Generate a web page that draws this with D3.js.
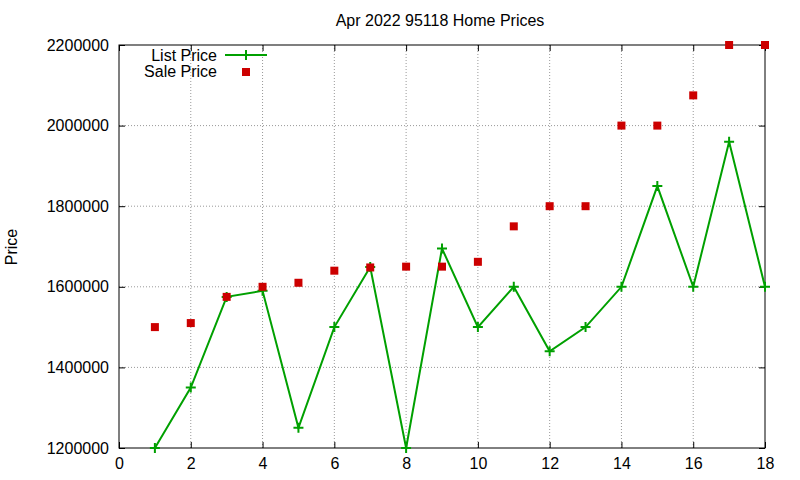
<!DOCTYPE html>
<html><head><meta charset="utf-8">
<script src="https://cdn.jsdelivr.net/npm/d3@7"></script>
<style>body{margin:0;background:#fff}text{font-family:"Liberation Sans",Arial,sans-serif;font-size:16px}</style>
</head><body>
<svg id="c" width="800" height="480"></svg>
<script>
const months = d3.range(1, 19);
const listPrice = [1200000,1350000,1575000,1590000,1250000,1500000,1649000,1200000,1695000,1500000,1600000,1440000,1500000,1600000,1850000,1600000,1960000,1600000];
const salePrice = [1500000,1510000,1575000,1600000,1610000,1640000,1648000,1650000,1650000,1662000,1750000,1800000,1800000,2000000,2000000,2075000,2200000,2200000];
const xTicks = d3.range(0, 19, 2);
const yTicks = d3.range(1200000, 2200001, 200000);

const svg = d3.select("#c");
const L = 119, R = 765, T = 45, B = 448;
const x = d3.scaleLinear().domain([0, 18]).range([L, R]);
const y = d3.scaleLinear().domain([1200000, 2200000]).range([B, T]);
const green = "#00a000", red = "#cc0000";

// grid
svg.append("g").selectAll("line").data(xTicks.slice(1, -1)).join("line")
  .attr("x1", d => x(d)).attr("x2", d => x(d)).attr("y1", T).attr("y2", B)
  .attr("stroke", "#999").attr("stroke-dasharray", "1,2");
svg.append("g").selectAll("line").data(yTicks.slice(1, -1)).join("line")
  .attr("y1", d => y(d)).attr("y2", d => y(d)).attr("x1", L).attr("x2", R)
  .attr("stroke", "#999").attr("stroke-dasharray", "1,2");

// axes with inward ticks, mirrored
svg.append("g").attr("transform", `translate(0,${B})`)
  .call(d3.axisBottom(x).tickValues(xTicks).tickSize(-6).tickPadding(10));
svg.append("g").attr("transform", `translate(0,${T})`)
  .call(d3.axisTop(x).tickValues(xTicks).tickSize(-6).tickFormat(""));
svg.append("g").attr("transform", `translate(${L},0)`)
  .call(d3.axisLeft(y).tickValues(yTicks).tickSize(-6).tickPadding(10).tickFormat(d3.format("d")));
svg.append("g").attr("transform", `translate(${R},0)`)
  .call(d3.axisRight(y).tickValues(yTicks).tickSize(-6).tickFormat(""));
svg.selectAll(".domain").remove();
svg.selectAll(".tick text").attr("font-size", 16).attr("fill", "#000")
  .style("font-family", '"Liberation Sans",Arial,sans-serif');
svg.append("rect").attr("x", L).attr("y", T).attr("width", R - L).attr("height", B - T)
  .attr("fill", "none").attr("stroke", "#000");

// list price line + '+' markers
svg.append("path").datum(months)
  .attr("d", d3.line().x(d => x(d)).y((d, i) => y(listPrice[i])))
  .attr("fill", "none").attr("stroke", green).attr("stroke-width", 2);
svg.append("g").selectAll("path").data(months).join("path")
  .attr("d", (d, i) => `M${x(d)-5},${y(listPrice[i])}h10M${x(d)},${y(listPrice[i])-5}v10`)
  .attr("stroke", green).attr("stroke-width", 2);

// sale price squares
svg.append("g").selectAll("rect").data(months).join("rect")
  .attr("x", d => x(d) - 4).attr("y", (d, i) => y(salePrice[i]) - 4)
  .attr("width", 8).attr("height", 8).attr("fill", red);

// legend
svg.append("text").attr("x", 217).attr("y", 61).attr("text-anchor", "end").text("List Price");
svg.append("line").attr("x1", 225).attr("x2", 267).attr("y1", 55).attr("y2", 55)
  .attr("stroke", green).attr("stroke-width", 2);
svg.append("path").attr("d", "M241,55h10M246,50v10").attr("stroke", green).attr("stroke-width", 2);
svg.append("text").attr("x", 217).attr("y", 77).attr("text-anchor", "end").text("Sale Price");
svg.append("rect").attr("x", 242).attr("y", 68).attr("width", 8).attr("height", 8).attr("fill", red);

// titles
svg.append("text").attr("x", 440).attr("y", 26).attr("text-anchor", "middle").text("Apr 2022 95118 Home Prices");
svg.append("text").attr("transform", "translate(17,247) rotate(-90)").attr("text-anchor", "middle").text("Price");
</script>
</body></html>
